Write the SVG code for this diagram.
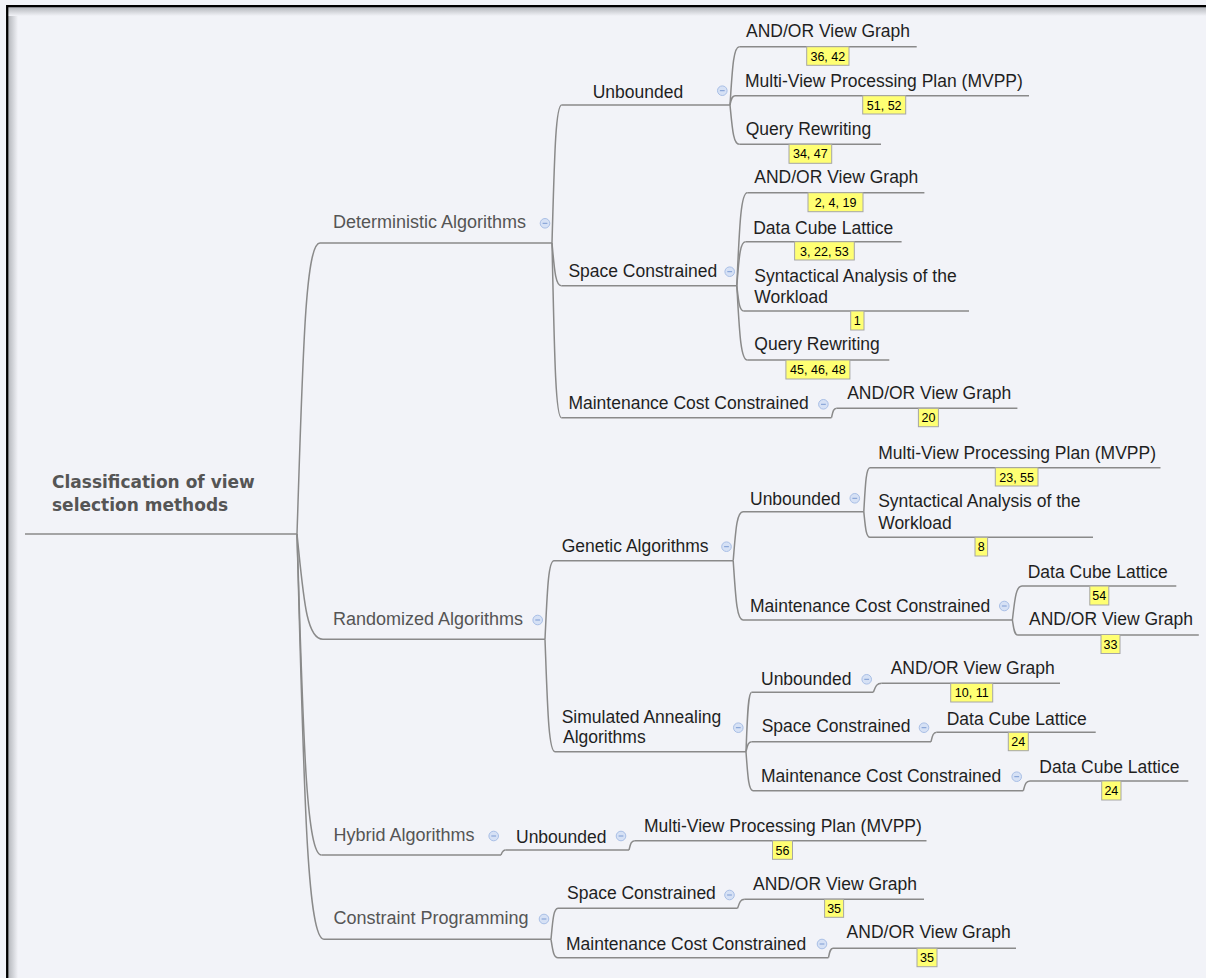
<svg xmlns="http://www.w3.org/2000/svg" width="1206" height="978" viewBox="0 0 1206 978">
<defs>
<linearGradient id="shL" x1="0" y1="0" x2="1" y2="0"><stop offset="0" stop-color="#b4b6bc"/><stop offset="0.3" stop-color="#c6c8cd"/><stop offset="1" stop-color="#f2f3f8"/></linearGradient>
<linearGradient id="shT" x1="0" y1="0" x2="0" y2="1"><stop offset="0" stop-color="#b4b6bc"/><stop offset="0.3" stop-color="#c6c8cd"/><stop offset="1" stop-color="#f2f3f8"/></linearGradient>
<g id="ic"><circle r="4.8" fill="#d6e1f5" stroke="#a9bfe6" stroke-width="1"/><line x1="-2.4" y1="0" x2="2.4" y2="0" stroke="#7c9bd3" stroke-width="1"/></g>
</defs>
<style>
.l1{font-family:"Liberation Sans",Arial,sans-serif;font-size:18px;fill:#555}
.t{font-family:"Liberation Sans",Arial,sans-serif;font-size:17.5px;fill:#1f1f1f}
.root{font-family:"DejaVu Sans",Verdana,sans-serif;font-weight:bold;font-size:17px;fill:#555}
.ul{stroke:#8a8a8a;stroke-width:1.5;fill:none}
.cn path{stroke:#8a8a8a;stroke-width:1.5;fill:none}
.bx{fill:#ffff73;stroke:#a6a6a6;stroke-width:1}
.bt{font-family:"Liberation Sans",Arial,sans-serif;font-size:12.5px;fill:#000;text-anchor:middle}
</style>
<rect width="1206" height="978" fill="#f2f3f8"/>
<rect x="8" y="7" width="10" height="971" fill="url(#shL)"/>
<rect x="8" y="7" width="1198" height="9" fill="url(#shT)"/>
<path d="M7.2 978 V6.2 H1206" stroke="#000" stroke-width="2.3" fill="none"/>

<g class="cn" id="connectors">
<path d="M297 534 C302.75 359.4 305.05 243 320 243"/>
<path d="M297 534 C303.5 597.2 306.1 639.3 323 639.3"/>
<path d="M297 534 C303.1 726.6 305.6 855 321.5 855"/>
<path d="M297 534 C303.75 777.2 306.45 939.3 324 939.3"/>
<path d="M552 243 C554.4 160.2 555.4 105 561.7 105"/>
<path d="M552 243 C554.35 268.6 555.3 285.7 561.4 285.7"/>
<path d="M552 243 C554.35 347.8 555.3 417.7 561.4 417.7"/>
<path d="M730 105 C732.3 70 733.3 46.7 739.3 46.7"/>
<path d="M730 105 C731.25 99.4 731.75 95.7 735 95.7"/>
<path d="M730 105 C732.3 128.6 733.3 144.3 739.3 144.3"/>
<path d="M736.8 285.7 C739.4 229.9 740.5 192.7 747.3 192.7"/>
<path d="M736.8 285.7 C739 259.3 739.8 241.7 745.5 241.7"/>
<path d="M736.8 285.7 C738.55 300.9 739.25 311 743.8 311"/>
<path d="M736.8 285.7 C739.4 330.3 740.5 360 747.3 360"/>
<path d="M831.5 417.7 C832.8 412.1 833.3 408.3 836.7 408.3"/>
<path d="M545 639.3 C547.25 592.1 548.15 560.7 554 560.7"/>
<path d="M545 639.3 C547.5 706.7 548.5 751.7 555 751.7"/>
<path d="M733.2 560.7 C735.65 531.3 736.6 511.7 743 511.7"/>
<path d="M733.2 560.7 C735.65 596.3 736.6 620 743 620"/>
<path d="M863.8 511.7 C865.35 485.3 866 467.7 870 467.7"/>
<path d="M863.8 511.7 C865.35 527.1 866 537.3 870 537.3"/>
<path d="M1012.4 620 C1014.8 599.6 1015.75 586 1022 586"/>
<path d="M1012.4 620 C1013.75 629 1014.3 635 1017.8 635"/>
<path d="M746 751.7 C747.4 716.1 748 692.3 751.7 692.3"/>
<path d="M746 751.7 C747.4 745.7 748 741.7 751.7 741.7"/>
<path d="M746 751.7 C747.75 775.1 748.45 790.7 753 790.7"/>
<path d="M873.3 692.3 C875.4 686.9 876.24 683.3 881.7 683.3"/>
<path d="M931 741.7 C932.4 736.1 933 732.3 936.7 732.3"/>
<path d="M1023.3 790.7 C1025 784.9 1025.6 781 1030 781"/>
<path d="M501 855 C502.15 852 502.6 850 505.6 850"/>
<path d="M629 850 C630.45 844.1 631 840.7 634.8 840.7"/>
<path d="M551 939.3 C552.75 920.7 553.45 908.3 558 908.3"/>
<path d="M551 939.3 C552.75 950.3 553.45 957.7 558 957.7"/>
<path d="M737.6 908.3 C739.4 902.9 740.1 899.3 744.8 899.3"/>
<path d="M828.5 957.7 C829.6 952.1 830.1 948.3 833 948.3"/>
</g>

<g id="n-root"><text class="root" x="52" y="488">Classification of view</text><text class="root" x="52" y="511">selection methods</text><line class="ul" x1="25" y1="534" x2="297" y2="534"/></g>

<g id="n-det"><text class="l1" x="333" y="228">Deterministic Algorithms</text><line class="ul" x1="320" y1="243" x2="552" y2="243"/><use href="#ic" x="545" y="223.3"/></g>
<g id="n-rand"><text class="l1" x="333" y="625">Randomized Algorithms</text><line class="ul" x1="323" y1="639.3" x2="545" y2="639.3"/><use href="#ic" x="537.7" y="620"/></g>
<g id="n-hyb"><text class="l1" x="333.5" y="840.7">Hybrid Algorithms</text><line class="ul" x1="321.5" y1="855" x2="501" y2="855"/><use href="#ic" x="493.7" y="836"/></g>
<g id="n-cp"><text class="l1" x="333.5" y="924">Constraint Programming</text><line class="ul" x1="324" y1="939.3" x2="551" y2="939.3"/><use href="#ic" x="544" y="919"/></g>

<g id="n-det-unb"><text class="t" x="592.7" y="97.7">Unbounded</text><line class="ul" x1="561.7" y1="105" x2="730" y2="105"/><use href="#ic" x="722.3" y="90.7"/></g>
<g id="n-det-sc"><text class="t" x="568.4" y="276.7">Space Constrained</text><line class="ul" x1="561.4" y1="285.7" x2="736.8" y2="285.7"/><use href="#ic" x="729.7" y="271.7"/></g>
<g id="n-det-mcc"><text class="t" x="568.4" y="409.3">Maintenance Cost Constrained</text><line class="ul" x1="561.4" y1="417.7" x2="831.5" y2="417.7"/><use href="#ic" x="823.4" y="404.3"/></g>

<g id="n-gen"><text class="t" x="561.7" y="551.7">Genetic Algorithms</text><line class="ul" x1="554" y1="560.7" x2="733.2" y2="560.7"/><use href="#ic" x="726.5" y="546.7"/></g>
<g id="n-sa"><text class="t" x="561.7" y="722.7">Simulated Annealing</text><text class="t" x="563" y="742.7">Algorithms</text><line class="ul" x1="555" y1="751.7" x2="746" y2="751.7"/><use href="#ic" x="738.3" y="727.7"/></g>

<g id="n-gen-unb"><text class="t" x="750" y="505">Unbounded</text><line class="ul" x1="743" y1="511.7" x2="863.8" y2="511.7"/><use href="#ic" x="854.8" y="498.3"/></g>
<g id="n-gen-mcc"><text class="t" x="750" y="611.7">Maintenance Cost Constrained</text><line class="ul" x1="743" y1="620" x2="1012.4" y2="620"/><use href="#ic" x="1004.3" y="606"/></g>

<g id="n-sa-unb"><text class="t" x="761" y="685">Unbounded</text><line class="ul" x1="751.7" y1="692.3" x2="873.3" y2="692.3"/><use href="#ic" x="866.7" y="679.3"/></g>
<g id="n-sa-sc"><text class="t" x="761.7" y="732.3">Space Constrained</text><line class="ul" x1="751.7" y1="741.7" x2="931" y2="741.7"/><use href="#ic" x="924" y="727.7"/></g>
<g id="n-sa-mcc"><text class="t" x="761" y="781.7">Maintenance Cost Constrained</text><line class="ul" x1="753" y1="790.7" x2="1023.3" y2="790.7"/><use href="#ic" x="1016.7" y="776.7"/></g>

<g id="n-hyb-unb"><text class="t" x="516" y="842.7">Unbounded</text><line class="ul" x1="505.6" y1="850" x2="629" y2="850"/><use href="#ic" x="621" y="836"/></g>
<g id="n-cp-sc"><text class="t" x="567" y="899.3">Space Constrained</text><line class="ul" x1="558" y1="908.3" x2="737.6" y2="908.3"/><use href="#ic" x="729.5" y="895"/></g>
<g id="n-cp-mcc"><text class="t" x="566" y="950">Maintenance Cost Constrained</text><line class="ul" x1="558" y1="957.7" x2="828.5" y2="957.7"/><use href="#ic" x="822" y="944"/></g>

<g id="l1"><text class="t" x="746" y="37.3">AND/OR View Graph</text><line class="ul" x1="739.3" y1="46.7" x2="916.7" y2="46.7"/><rect class="bx" x="806.7" y="46.7" width="42.3" height="18.6"/><text class="bt" x="827.85" y="60.7">36, 42</text></g>
<g id="l2"><text class="t" x="745" y="87.3">Multi-View Processing Plan (MVPP)</text><line class="ul" x1="735" y1="95.7" x2="1029" y2="95.7"/><rect class="bx" x="862.7" y="95.7" width="43" height="18.3"/><text class="bt" x="884.2" y="109.7">51, 52</text></g>
<g id="l3"><text class="t" x="745.7" y="135">Query Rewriting</text><line class="ul" x1="739.3" y1="144.3" x2="881" y2="144.3"/><rect class="bx" x="789" y="144.3" width="42.7" height="19"/><text class="bt" x="810.35" y="158.3">34, 47</text></g>
<g id="l4"><text class="t" x="754.3" y="183.3">AND/OR View Graph</text><line class="ul" x1="747.3" y1="192.7" x2="924.4" y2="192.7"/><rect class="bx" x="808" y="192.7" width="55" height="19"/><text class="bt" x="835.5" y="206.7">2, 4, 19</text></g>
<g id="l5"><text class="t" x="753.2" y="234">Data Cube Lattice</text><line class="ul" x1="745.5" y1="241.7" x2="901.6" y2="241.7"/><rect class="bx" x="794.6" y="241.7" width="59.7" height="18.3"/><text class="bt" x="824.45" y="255.7">3, 22, 53</text></g>
<g id="l6"><text class="t" x="754.3" y="281.7">Syntactical Analysis of the</text><text class="t" x="754.3" y="303.3">Workload</text><line class="ul" x1="743.8" y1="311" x2="969" y2="311"/><rect class="bx" x="850.7" y="311" width="13.3" height="19"/><text class="bt" x="857.35" y="325">1</text></g>
<g id="l7"><text class="t" x="754.3" y="350">Query Rewriting</text><line class="ul" x1="747.3" y1="360" x2="889.3" y2="360"/><rect class="bx" x="785.9" y="360" width="64" height="19"/><text class="bt" x="817.9" y="374">45, 46, 48</text></g>
<g id="l8"><text class="t" x="847.2" y="399.3">AND/OR View Graph</text><line class="ul" x1="836.7" y1="408.3" x2="1017.4" y2="408.3"/><rect class="bx" x="918.4" y="408.3" width="20" height="18.4"/><text class="bt" x="928.4" y="422.3">20</text></g>
<g id="l9"><text class="t" x="878.2" y="459.3">Multi-View Processing Plan (MVPP)</text><line class="ul" x1="870" y1="467.7" x2="1160.5" y2="467.7"/><rect class="bx" x="995.3" y="467.7" width="42.7" height="18.3"/><text class="bt" x="1016.65" y="481.7">23, 55</text></g>
<g id="l10"><text class="t" x="878.2" y="507.3">Syntactical Analysis of the</text><text class="t" x="878.2" y="529.3">Workload</text><line class="ul" x1="870" y1="537.3" x2="1093" y2="537.3"/><rect class="bx" x="975" y="537.3" width="12.6" height="18.7"/><text class="bt" x="981.3" y="551.3">8</text></g>
<g id="l11"><text class="t" x="1027.7" y="578.3">Data Cube Lattice</text><line class="ul" x1="1022" y1="586" x2="1176.3" y2="586"/><rect class="bx" x="1089.8" y="586" width="19" height="19"/><text class="bt" x="1099.3" y="600">54</text></g>
<g id="l12"><text class="t" x="1029" y="625">AND/OR View Graph</text><line class="ul" x1="1017.8" y1="635" x2="1198.8" y2="635"/><rect class="bx" x="1101" y="634.5" width="19" height="19"/><text class="bt" x="1110.5" y="648.5">33</text></g>
<g id="l13"><text class="t" x="890.7" y="674.3">AND/OR View Graph</text><line class="ul" x1="881.7" y1="683.3" x2="1060" y2="683.3"/><rect class="bx" x="950.7" y="683.3" width="42" height="18.7"/><text class="bt" x="971.7" y="697.3">10, 11</text></g>
<g id="l14"><text class="t" x="946.7" y="725">Data Cube Lattice</text><line class="ul" x1="936.7" y1="732.3" x2="1095.7" y2="732.3"/><rect class="bx" x="1008.3" y="732.3" width="20" height="18.4"/><text class="bt" x="1018.3" y="746.3">24</text></g>
<g id="l15"><text class="t" x="1039.3" y="773.3">Data Cube Lattice</text><line class="ul" x1="1030" y1="781" x2="1188.3" y2="781"/><rect class="bx" x="1101.7" y="781" width="19.3" height="19"/><text class="bt" x="1111.35" y="795">24</text></g>
<g id="l16"><text class="t" x="644" y="831.7">Multi-View Processing Plan (MVPP)</text><line class="ul" x1="634.8" y1="840.7" x2="926.5" y2="840.7"/><rect class="bx" x="772.5" y="840.7" width="20" height="18.6"/><text class="bt" x="782.5" y="854.7">56</text></g>
<g id="l17"><text class="t" x="753" y="890">AND/OR View Graph</text><line class="ul" x1="744.8" y1="899.3" x2="924" y2="899.3"/><rect class="bx" x="824.6" y="899.3" width="19" height="18"/><text class="bt" x="834.1" y="913">35</text></g>
<g id="l18"><text class="t" x="846.6" y="938">AND/OR View Graph</text><line class="ul" x1="833" y1="948.3" x2="1016" y2="948.3"/><rect class="bx" x="917" y="948.3" width="20" height="18.4"/><text class="bt" x="927" y="962.3">35</text></g>
</svg>
